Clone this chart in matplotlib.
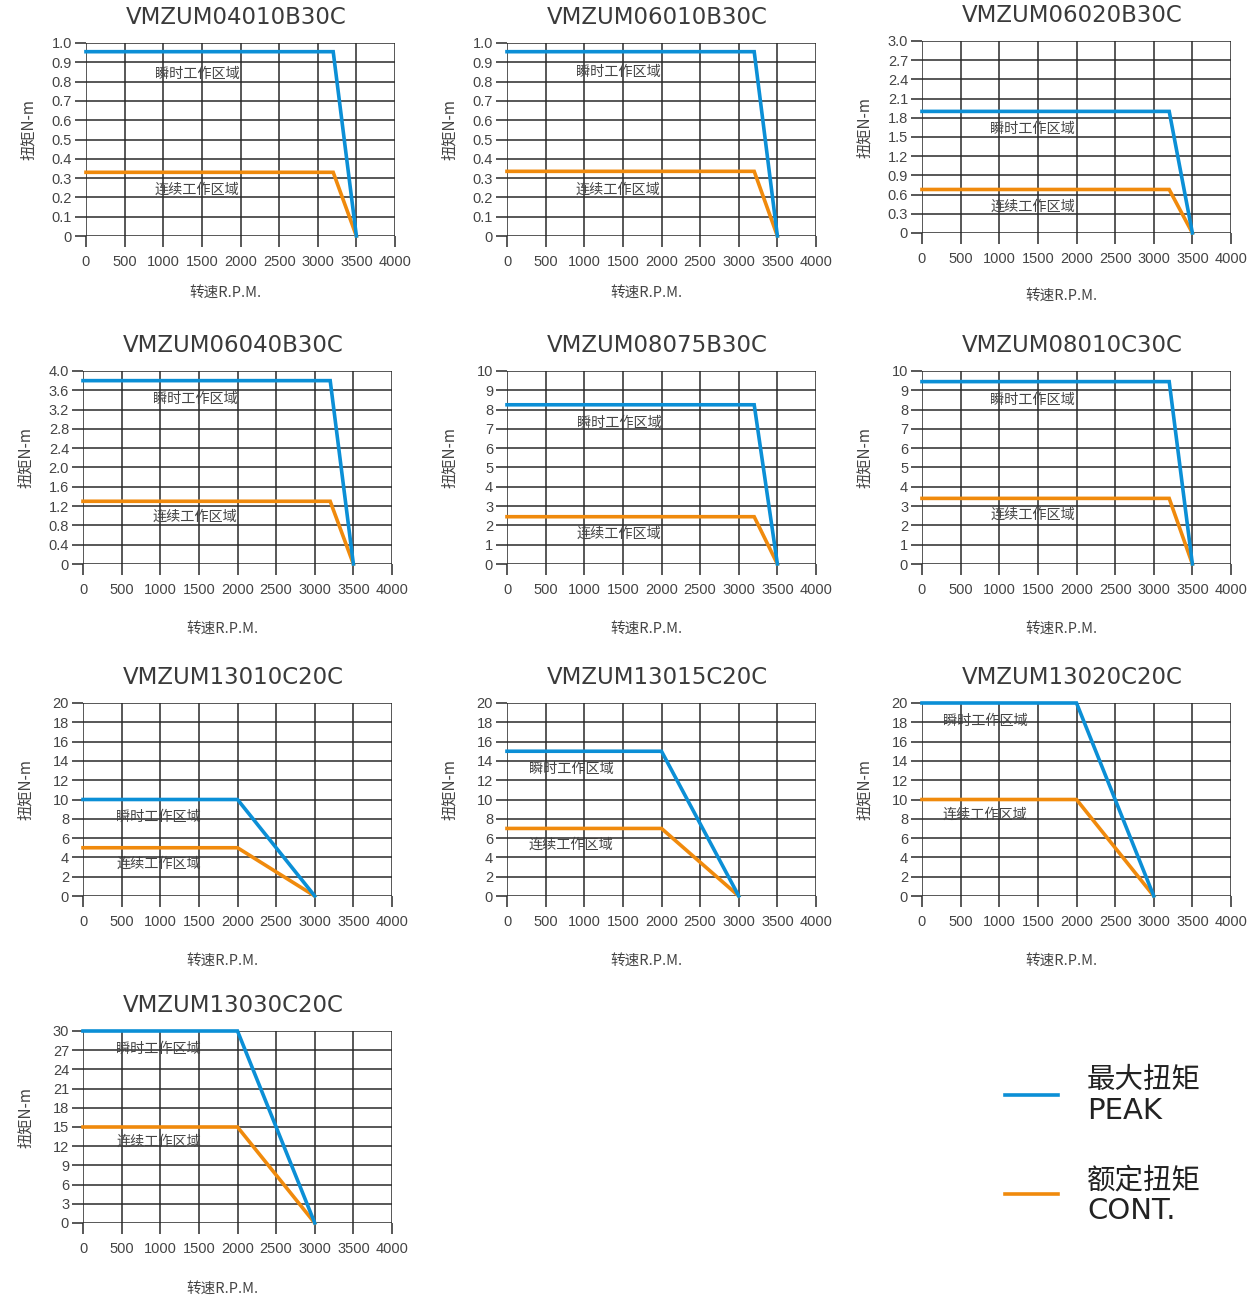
import matplotlib
matplotlib.use("Agg")
import matplotlib.pyplot as plt

plt.rcParams['font.family'] = ['Liberation Sans', 'Noto Sans CJK SC', 'DejaVu Sans']

# ---- data ----
titles = ["VMZUM04010B30C", "VMZUM06010B30C", "VMZUM06020B30C",
          "VMZUM06040B30C", "VMZUM08075B30C", "VMZUM08010C30C",
          "VMZUM13010C20C", "VMZUM13015C20C", "VMZUM13020C20C",
          "VMZUM13030C20C"]
peak_x = [[0, 3200, 3500]] * 6 + [[0, 2000, 3000]] * 4
peak_y = [[0.955, 0.955, 0], [0.955, 0.955, 0], [1.9, 1.9, 0],
          [3.8, 3.8, 0], [8.25, 8.25, 0], [9.45, 9.45, 0],
          [10, 10, 0], [15, 15, 0], [20, 20, 0], [30, 30, 0]]
cont_x = [[0, 3200, 3500]] * 6 + [[0, 2000, 3000]] * 4
cont_y = [[0.33, 0.33, 0], [0.335, 0.335, 0], [0.68, 0.68, 0],
          [1.3, 1.3, 0], [2.45, 2.45, 0], [3.4, 3.4, 0],
          [5, 5, 0], [7, 7, 0], [10, 10, 0], [15, 15, 0]]
y_max = [1.0, 1.0, 3.0, 4.0, 10, 10, 20, 20, 20, 30]
y_step = [0.1, 0.1, 0.3, 0.4, 1, 1, 2, 2, 2, 3]
y_decimals = [1, 1, 1, 1, 0, 0, 0, 0, 0, 0]
x_ticks = [0, 500, 1000, 1500, 2000, 2500, 3000, 3500, 4000]
peak_label_pos = [(1440, 0.84), (1440, 0.85), (1430, 1.62), (1450, 3.42),
                  (1450, 7.3), (1430, 8.5), (980, 8.2), (830, 13.2),
                  (820, 18.1), (980, 27.2)]
cont_label_pos = [(1440, 0.24), (1440, 0.24), (1430, 0.41), (1450, 0.97),
                  (1450, 1.55), (1430, 2.55), (980, 3.3), (830, 5.3),
                  (820, 8.4), (980, 12.7)]
peak_zone = "瞬时工作区域"
cont_zone = "连续工作区域"
x_label = "转速R.P.M."
y_label = "扭矩N-m"
legend_names = [("最大扭矩", "PEAK"), ("额定扭矩", "CONT.")]

BLUE = "#0b8fd6"
ORANGE = "#f08a0c"
GRID = "#2a2a2a"
TXT = "#444444"

W, H = 1248, 1301
fig = plt.figure(figsize=(W / 100, H / 100), dpi=100)
fig.patch.set_facecolor("white")

# pixel boxes: (x0, x1, ytop, ybottom)
boxes = [(86, 395, 43, 236), (507, 816, 43, 236), (922, 1231, 41, 233),
         (83, 392, 371, 564), (507, 816, 371, 564), (922, 1231, 371, 564),
         (83, 392, 703, 896), (507, 816, 703, 896), (922, 1231, 703, 896),
         (83, 392, 1031, 1223)]
title_y = [18, 18, 15, 346, 346, 346, 678, 678, 678, 1006]
xlabel_y = [293, 293, 296, 629, 629, 629, 961, 961, 961, 1289]

cjk = ['Noto Sans CJK SC', 'DejaVu Sans']

for i, (x0, x1, yt, yb) in enumerate(boxes):
    ax = fig.add_axes([x0 / W, 1 - yb / H, (x1 - x0) / W, (yb - yt) / H])
    ax.set_xlim(0, 4000)
    ax.set_ylim(0, y_max[i])
    n = int(round(y_max[i] / y_step[i]))
    yt_vals = [round(k * y_step[i], 3) for k in range(n + 1)]
    ax.set_xticks(x_ticks)
    ax.set_yticks(yt_vals)
    ylabels = []
    for v in yt_vals:
        if v == 0:
            ylabels.append("0")
        elif y_decimals[i]:
            ylabels.append(f"{v:.1f}")
        else:
            ylabels.append(f"{int(round(v))}")
    ax.set_yticklabels(ylabels)
    ax.grid(True, color=GRID, linewidth=1.1)
    for s in ax.spines.values():
        s.set_visible(False)
    ax.tick_params(axis='both', direction='out', length=8, width=1.1,
                   color=GRID, labelsize=10.5, labelcolor=TXT)
    ax.tick_params(axis='x', pad=6)
    ax.tick_params(axis='y', pad=2)
    ax.plot(peak_x[i], peak_y[i], color=BLUE, lw=2.6, solid_joinstyle='miter',
            clip_on=False, zorder=4)
    ax.plot(cont_x[i], cont_y[i], color=ORANGE, lw=2.6, solid_joinstyle='miter',
            clip_on=False, zorder=3)
    ax.text(*peak_label_pos[i], peak_zone, ha='center', va='center',
            fontsize=10.2, color=TXT, family=cjk, zorder=5)
    ax.text(*cont_label_pos[i], cont_zone, ha='center', va='center',
            fontsize=10.2, color=TXT, family=cjk, zorder=5)
    cx = (x0 + x1) / 2
    fig.text((cx - 4) / W, 1 - title_y[i] / H, titles[i], ha='center', va='center',
             fontsize=16.5, color="#3a3a3a", family=['DejaVu Sans'])
    fig.text((cx - 15) / W, 1 - xlabel_y[i] / H, x_label, ha='center', va='center',
             fontsize=10.5, color=TXT, family=cjk)
    fig.text((x0 - 58) / W, 1 - ((yt + yb) / 2 - 10) / H, y_label, ha='center',
             va='center', rotation=90, fontsize=11, color=TXT, family=cjk)

# legend
fig.add_artist(plt.Line2D([1005 / W, 1058 / W], [1 - 1095 / H, 1 - 1095 / H],
                          color=BLUE, lw=2.6))
fig.add_artist(plt.Line2D([1005 / W, 1058 / W], [1 - 1194 / H, 1 - 1194 / H],
                          color=ORANGE, lw=2.6))
for (cn, en), yc in zip(legend_names, [1080, 1180]):
    fig.text(1087 / W, 1 - yc / H, cn, ha='left', va='center', fontsize=20.5,
             color="#222222", family=cjk)
    fig.text(1087 / W, 1 - (yc + 31) / H, en, ha='left', va='center', fontsize=21,
             color="#222222", family=['DejaVu Sans'])

fig.savefig("out.png", dpi=100, facecolor="white")
